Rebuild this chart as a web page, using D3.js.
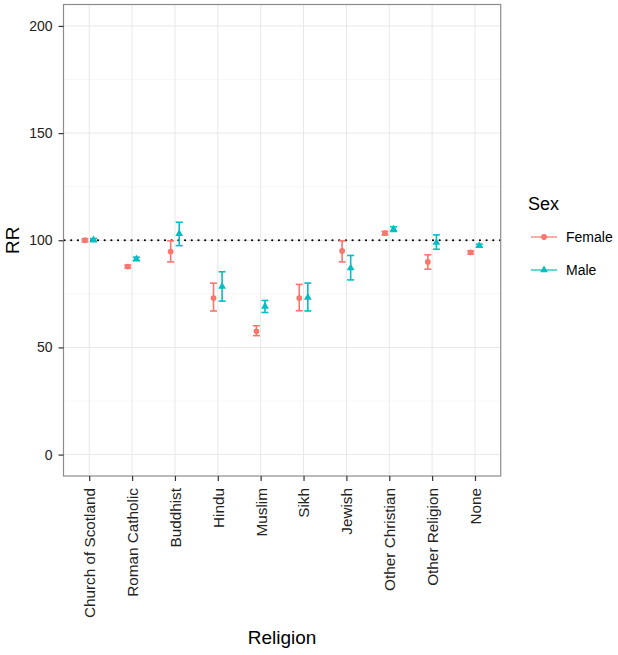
<!DOCTYPE html>
<html>
<head>
<meta charset="utf-8">
<script src="https://cdn.jsdelivr.net/npm/d3@7"></script>
<style>
  html, body { margin: 0; padding: 0; background: #fff; }
  svg { display: block; font-family: "Liberation Sans", Arial, sans-serif; }
</style>
</head>
<body>
<svg id="chart" width="618" height="655"></svg>
<script>
const categories = ["Church of Scotland", "Roman Catholic", "Buddhist", "Hindu", "Muslim", "Sikh", "Jewish", "Other Christian", "Other Religion", "None"];
const femaleRR = [100.0, 87.7, 94.7, 73.0, 57.5, 73.0, 95.0, 103.3, 89.9, 94.3];
const femaleLo = [99.3, 87.0, 89.9, 67.0, 55.5, 67.1, 89.9, 102.5, 86.5, 93.6];
const femaleHi = [100.7, 88.4, 99.7, 80.0, 60.1, 79.4, 99.7, 104.1, 93.2, 95.0];
const maleRR = [100.1, 91.3, 103.0, 78.4, 69.1, 73.3, 87.0, 105.2, 98.9, 97.5];
const maleLo = [99.4, 90.5, 97.5, 71.6, 66.3, 67.0, 81.5, 104.1, 95.8, 96.8];
const maleHi = [100.8, 92.1, 108.4, 85.3, 71.9, 80.0, 92.9, 106.3, 102.5, 98.2];
const yTicks = [0, 50, 100, 150, 200];
const yMinorTicks = [25, 75, 125, 175];
const refValue = 100;
const seriesNames = ["Female", "Male"];
const seriesColors = ["#F8766D", "#00BFC4"];

const svg = d3.select("#chart");
const L = 63.5, R = 500.7, T = 4.5, B = 476;

const x = d3.scalePoint().domain(categories).range([L, R]).padding(0.6);
const y = d3.scaleLinear().domain([-10, 210]).range([B, T]);
const dodge = x.step() * 0.1;

// panel background & grid
svg.append("rect").attr("x", L).attr("y", T).attr("width", R - L).attr("height", B - T).attr("fill", "#fff");
const grid = svg.append("g");
yMinorTicks.forEach(v => grid.append("line").attr("x1", L).attr("x2", R).attr("y1", y(v)).attr("y2", y(v)).attr("stroke", "#F2F2F2").attr("stroke-width", 0.6));
yTicks.forEach(v => grid.append("line").attr("x1", L).attr("x2", R).attr("y1", y(v)).attr("y2", y(v)).attr("stroke", "#E8E8E8").attr("stroke-width", 1));
categories.forEach(c => grid.append("line").attr("x1", x(c)).attr("x2", x(c)).attr("y1", T).attr("y2", B).attr("stroke", "#E8E8E8").attr("stroke-width", 1));

// reference line
svg.append("line").attr("x1", L + 1).attr("x2", R).attr("y1", y(refValue)).attr("y2", y(refValue))
  .attr("stroke", "#000").attr("stroke-width", 2.2).attr("stroke-linecap", "round").attr("stroke-dasharray", "0,6.7");

// series
const series = [
  {name: seriesNames[0], color: seriesColors[0], rr: femaleRR, lo: femaleLo, hi: femaleHi, off: -dodge, shape: d3.symbolCircle, size: 26},
  {name: seriesNames[1], color: seriesColors[1], rr: maleRR, lo: maleLo, hi: maleHi, off: dodge, shape: d3.symbolTriangle, size: 26}
];
const capW = 3.5;
series.forEach(s => {
  const g = svg.append("g");
  categories.forEach((c, i) => {
    const cx = x(c) + s.off;
    g.append("line").attr("x1", cx).attr("x2", cx).attr("y1", y(s.lo[i])).attr("y2", y(s.hi[i])).attr("stroke", s.color).attr("stroke-width", 1.6);
    g.append("line").attr("x1", cx - capW).attr("x2", cx + capW).attr("y1", y(s.lo[i])).attr("y2", y(s.lo[i])).attr("stroke", s.color).attr("stroke-width", 1.6);
    g.append("line").attr("x1", cx - capW).attr("x2", cx + capW).attr("y1", y(s.hi[i])).attr("y2", y(s.hi[i])).attr("stroke", s.color).attr("stroke-width", 1.6);
    g.append("path").attr("d", d3.symbol().type(s.shape).size(s.size)()).attr("transform", `translate(${cx},${y(s.rr[i])})`).attr("fill", s.color);
  });
});

// panel border
svg.append("rect").attr("x", L).attr("y", T).attr("width", R - L).attr("height", B - T).attr("fill", "none").attr("stroke", "#8C8C8C").attr("stroke-width", 1.2);

// axes
const yAxis = d3.axisLeft(y).tickValues(yTicks).tickSize(5).tickPadding(6);
const ya = svg.append("g").attr("transform", `translate(${L},0)`).call(yAxis);
ya.select(".domain").remove();
ya.selectAll(".tick line").attr("stroke", "#333").attr("stroke-width", 1.2);
ya.selectAll(".tick text").attr("font-size", 14).attr("fill", "#222").attr("font-family", "Liberation Sans, Arial, sans-serif");

const xAxis = d3.axisBottom(x).tickSize(5).tickPadding(5);
const xa = svg.append("g").attr("transform", `translate(0,${B})`).call(xAxis);
xa.select(".domain").remove();
xa.selectAll(".tick line").attr("stroke", "#333").attr("stroke-width", 1.2);
xa.selectAll(".tick text").attr("font-size", 15.3).attr("fill", "#222").attr("font-family", "Liberation Sans, Arial, sans-serif")
  .attr("transform", "rotate(-90)").attr("text-anchor", "end").attr("x", -12).attr("y", 0).attr("dy", "0.35em");

// axis titles
svg.append("text").attr("x", (L + R) / 2).attr("y", 644).attr("text-anchor", "middle").attr("font-size", 19).attr("fill", "#000").text("Religion");
svg.append("text").attr("transform", `translate(19,${y(100)}) rotate(-90)`).attr("text-anchor", "middle").attr("font-size", 19).attr("fill", "#000").text("RR");

// legend
const lg = svg.append("g");
lg.append("text").attr("x", 528).attr("y", 210).attr("font-size", 18).attr("fill", "#000").text("Sex");
series.forEach((s, i) => {
  const ky = 237 + i * 33;
  lg.append("line").attr("x1", 531).attr("x2", 557).attr("y1", ky).attr("y2", ky).attr("stroke", s.color).attr("stroke-width", 1.2);
  lg.append("path").attr("d", d3.symbol().type(s.shape).size(s.size)()).attr("transform", `translate(544,${ky})`).attr("fill", s.color);
  lg.append("text").attr("x", 566).attr("y", ky + 5).attr("font-size", 14).attr("fill", "#000").text(s.name);
});
</script>
</body>
</html>
